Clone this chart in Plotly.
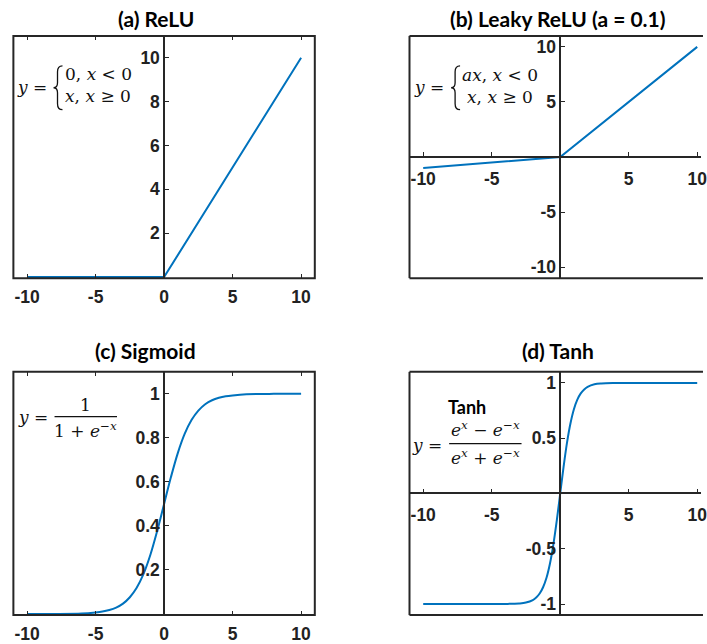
import plotly.graph_objects as go

W, H = 707, 644

# ---- data -------------------------------------------------------------
relu_x = [-10, 0, 10]
relu_y = [0, 0, 10]

leaky_a = 0.1
leaky_x = [-10, 0, 10]
leaky_y = [-1, 0, 10]

sig_x = [-10, -8, -6, -5, -4.5, -4, -3.5, -3, -2.5, -2, -1.5, -1, -0.5, 0,
         0.5, 1, 1.5, 2, 2.5, 3, 3.5, 4, 4.5, 5, 6, 8, 10]
sig_y = [0.000, 0.000, 0.002, 0.007, 0.011, 0.018, 0.029, 0.047, 0.076, 0.119,
         0.182, 0.269, 0.378, 0.500, 0.622, 0.731, 0.818, 0.881, 0.924, 0.953,
         0.971, 0.982, 0.989, 0.993, 0.998, 1.000, 1.000]

tanh_x = [-10, -6, -4, -3, -2.5, -2, -1.75, -1.5, -1.25, -1, -0.75, -0.5, -0.25, 0,
          0.25, 0.5, 0.75, 1, 1.25, 1.5, 1.75, 2, 2.5, 3, 4, 6, 10]
tanh_y = [-1.000, -1.000, -0.999, -0.995, -0.987, -0.964, -0.941, -0.905, -0.848,
          -0.762, -0.635, -0.462, -0.245, 0.000, 0.245, 0.462, 0.635, 0.762, 0.848,
          0.905, 0.941, 0.964, 0.987, 0.995, 0.999, 1.000, 1.000]

titles = ["(a) ReLU", "(b) Leaky ReLU (a = 0.1)", "(c) Sigmoid", "(d) Tanh"]

x_ticks_a = [-10, -5, 0, 5, 10]
y_ticks_a = [2, 4, 6, 8, 10]
x_ticks_b = [-10, -5, 5, 10]
y_ticks_b = [10, 5, -5, -10]
x_ticks_c = [-10, -5, 0, 5, 10]
y_ticks_c = [0.2, 0.4, 0.6, 0.8, 1]
y_text_c = ["0.2", "0.4", "0.6", "0.8", "1"]
x_ticks_d = [-10, -5, 5, 10]
y_ticks_d = [1, 0.5, -0.5, -1]
y_text_d = ["1", "0.5", "-0.5", "-1"]

# ---- styling ----------------------------------------------------------
BLUE = "#0072BD"
AX = "#262626"
TICKFONT = dict(family="Liberation Sans, Arial, sans-serif", size=17.5, color="#222222",
                weight=700)
TITLEFONT = dict(family="Lato, sans-serif", size=21, color="black")
MATHFONT = dict(family="DejaVu Serif, serif", size=17, color="#111111")


def bold(v):
    return f"<b>{v}</b>"


def px(x):
    return x / W


def py(y):
    return 1 - y / H


# panel boxes in pixels: left, right, top, bottom
boxes = {
    "a": (13.5, 317.5, 36, 279),
    "b": (413, 707, 36, 279),
    "c": (13.5, 317.5, 373, 617),
    "d": (413, 707, 373, 617),
}
scale = (317.5 - 13.5) / 22.0  # pixels per x unit
xr_full = [-11, 11]
xr_cut = [-11, -11 + (707 - 413) / scale]

fig = go.Figure()
fig.add_trace(go.Scatter(x=relu_x, y=relu_y, mode="lines", line=dict(color=BLUE, width=2),
                         xaxis="x", yaxis="y"))
fig.add_trace(go.Scatter(x=leaky_x, y=leaky_y, mode="lines", line=dict(color=BLUE, width=2),
                         xaxis="x2", yaxis="y2"))
fig.add_trace(go.Scatter(x=sig_x, y=sig_y, mode="lines", line=dict(color=BLUE, width=2, shape="spline"),
                         xaxis="x3", yaxis="y3"))
fig.add_trace(go.Scatter(x=tanh_x, y=tanh_y, mode="lines", line=dict(color=BLUE, width=2, shape="spline"),
                         xaxis="x4", yaxis="y4"))


def xdom(k):
    l, r, t, b = boxes[k]
    return [px(l), px(r)]


def ydom(k):
    l, r, t, b = boxes[k]
    return [py(b), py(t)]


def zero_x_paper(k, xr):
    l, r, t, b = boxes[k]
    return px(l + (0 - xr[0]) * (r - l) / (xr[1] - xr[0]))


def zero_y_paper(k, yr):
    l, r, t, b = boxes[k]
    return py(b - (0 - yr[0]) * (b - t) / (yr[1] - yr[0]))


common_x = dict(showgrid=False, zeroline=False, ticks="inside", ticklen=4, tickwidth=1.3,
                tickcolor=AX, tickfont=TICKFONT, fixedrange=True, ticklabelstandoff=6)
common_y = dict(showgrid=False, zeroline=False, ticks="inside", ticklen=4, tickwidth=1.3,
                tickcolor=AX, tickfont=TICKFONT, showline=True, linecolor=AX, linewidth=1.5,
                fixedrange=True)

yr_a = [-0.05, 11]
yr_b = [-11, 11]
yr_c = [-0.005, 1.1]
yr_d = [-1.1, 1.1]

fig.update_layout(
    xaxis=dict(domain=xdom("a"), range=xr_full, anchor="y", tickvals=x_ticks_a,
               ticktext=[bold(v) for v in x_ticks_a],
               mirror="ticks", showline=False, **common_x),
    yaxis=dict(domain=ydom("a"), range=yr_a, anchor="free",
               position=zero_x_paper("a", xr_full), tickvals=y_ticks_a,
               ticktext=[bold(v) for v in y_ticks_a], **common_y),
    xaxis2=dict(domain=xdom("b"), range=xr_cut, anchor="free",
                position=zero_y_paper("b", yr_b), tickvals=x_ticks_b,
                ticktext=[bold(v) for v in x_ticks_b], ticklabeloverflow="allow",
                showline=True, linecolor=AX, linewidth=1.5, **common_x),
    yaxis2=dict(domain=ydom("b"), range=yr_b, anchor="free",
                position=zero_x_paper("b", xr_cut), tickvals=y_ticks_b,
                ticktext=[bold(v) for v in y_ticks_b], **common_y),
    xaxis3=dict(domain=xdom("c"), range=xr_full, anchor="y3", tickvals=x_ticks_c,
                ticktext=[bold(v) for v in x_ticks_c],
                mirror="ticks", showline=False, **common_x),
    yaxis3=dict(domain=ydom("c"), range=yr_c, anchor="free",
                position=zero_x_paper("c", xr_full), tickvals=y_ticks_c,
                ticktext=[bold(v) for v in y_text_c], **common_y),
    xaxis4=dict(domain=xdom("d"), range=xr_cut, anchor="free",
                position=zero_y_paper("d", yr_d), tickvals=x_ticks_d,
                ticktext=[bold(v) for v in x_ticks_d], ticklabeloverflow="allow",
                showline=True, linecolor=AX, linewidth=1.5, **common_x),
    yaxis4=dict(domain=ydom("d"), range=yr_d, anchor="free",
                position=zero_x_paper("d", xr_cut), tickvals=y_ticks_d,
                ticktext=[bold(v) for v in y_text_d], **common_y),
)

# ---- panel frames -----------------------------------------------------
shapes = []
for k in ("a", "c"):
    l, r, t, b = boxes[k]
    shapes.append(dict(type="rect", xref="paper", yref="paper", x0=px(l), x1=px(r),
                       y0=py(b), y1=py(t), line=dict(color=AX, width=2)))
for k in ("b", "d"):
    l, r, t, b = boxes[k]
    for (x0, y0, x1, y1) in ((l, t, l, b), (l, t, r + 2, t), (l, b, r + 2, b)):
        shapes.append(dict(type="line", xref="paper", yref="paper", x0=px(x0), x1=px(x1),
                           y0=py(y0), y1=py(y1), line=dict(color=AX, width=2)))


def brace(xr, xl, xm, top, bot):
    """Curly brace path (pixel coords) opening to the right."""
    mid = (top + bot) / 2
    pts = [
        f"M {px(xr)},{py(top)}",
        f"Q {px(xm)},{py(top)} {px(xm)},{py(top + 6)}",
        f"L {px(xm)},{py(mid - 5)}",
        f"Q {px(xm)},{py(mid)} {px(xl)},{py(mid)}",
        f"Q {px(xm)},{py(mid)} {px(xm)},{py(mid + 5)}",
        f"L {px(xm)},{py(bot - 6)}",
        f"Q {px(xm)},{py(bot)} {px(xr)},{py(bot)}",
    ]
    return dict(type="path", xref="paper", yref="paper", path=" ".join(pts),
                line=dict(color="#111111", width=1.3))


shapes.append(brace(63, 54, 58, 66, 110))
shapes.append(brace(464, 455, 459, 66, 110))
# fraction bars
shapes.append(dict(type="line", xref="paper", yref="paper", x0=px(55), x1=px(118),
                   y0=py(418), y1=py(418), line=dict(color="#111111", width=1.2)))
shapes.append(dict(type="line", xref="paper", yref="paper", x0=px(453), x1=px(526),
                   y0=py(445), y1=py(445), line=dict(color="#111111", width=1.2)))
fig.update_layout(shapes=shapes)

# ---- titles and formulas ----------------------------------------------
ann = []
title_pos = [(157, 19), (563, 19), (147, 352), (563, 352)]
for text, (x, y) in zip(titles, title_pos):
    ann.append(dict(text=bold(text), x=px(x), y=py(y), xref="paper", yref="paper",
                    xanchor="center", yanchor="middle", showarrow=False, font=TITLEFONT))


def mtext(text, x, y, anchor="left"):
    ann.append(dict(text=text, x=px(x), y=py(y), xref="paper", yref="paper",
                    xanchor=anchor, yanchor="middle", showarrow=False, font=MATHFONT))


# ReLU
mtext("<i>y</i> =", 15, 87)
mtext("0, <i>x</i> < 0", 64, 74)
mtext("<i>x</i>, <i>x</i> ≥ 0", 64, 96)
# Leaky ReLU
mtext("<i>y</i> =", 416, 87)
mtext("<i>ax</i>, <i>x</i> < 0", 464, 75)
mtext("<i>x</i>, <i>x</i> ≥ 0", 469, 97)
# Sigmoid
mtext("<i>y</i> =", 16, 418)
mtext("1", 86.5, 406, "center")
mtext("1 + <i>e</i><sup>−<i>x</i></sup>", 86.5, 431, "center")
# Tanh
ann.append(dict(text="<b>Tanh</b>", x=px(471), y=py(408), xref="paper", yref="paper",
                xanchor="center", yanchor="middle", showarrow=False,
                font=dict(family="Lato, sans-serif", size=18, color="black")))
mtext("<i>y</i> =", 414, 446)
mtext("<i>e</i><sup><i>x</i></sup> − <i>e</i><sup>−<i>x</i></sup>", 489.5, 430, "center")
mtext("<i>e</i><sup><i>x</i></sup> + <i>e</i><sup>−<i>x</i></sup>", 489.5, 458, "center")
fig.update_layout(annotations=ann)

fig.update_layout(width=W, height=H, margin=dict(l=0, r=0, t=0, b=0),
                  paper_bgcolor="white", plot_bgcolor="white", showlegend=False)

fig.write_html("out.html", config={"displayModeBar": False})
